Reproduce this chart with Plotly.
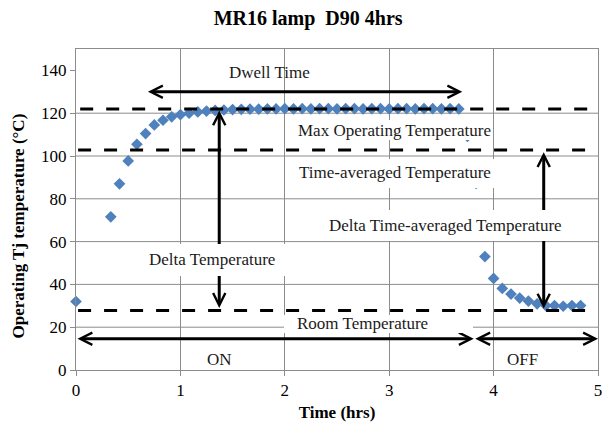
import plotly.graph_objects as go

# Junction temperature log of the MR16 lamp (D90, 4 h cycle)
minutes = [0, 20, 25, 30, 35, 40, 45, 50, 55, 60, 65, 70, 75, 80, 85, 90, 95, 100,
           105, 110, 115, 120, 125, 130, 135, 140, 145, 150, 155, 160, 165, 170,
           175, 180, 185, 190, 195, 200, 205, 210, 215, 220, 225, 230, 235, 240,
           245, 250, 255, 260, 265, 270, 275, 280, 285, 290]
tj_temp = [32.0, 71.6, 87.0, 97.7, 105.5, 110.5, 114.5, 116.7, 118.3, 119.3, 120.0,
           120.6, 121.0, 121.3, 121.5, 121.7, 121.8, 121.9, 121.9, 122.0, 122.0,
           122.1, 122.0, 122.1, 122.0, 122.1, 122.1, 122.0, 122.1, 122.1, 122.0,
           122.1, 122.1, 122.0, 122.1, 122.1, 122.0, 122.1, 122.1, 122.0, 122.1,
           122.0, 109.2, 87.2, 53.0, 42.8, 38.1, 35.5, 33.6, 32.2, 30.9, 30.1,
           30.1, 29.8, 30.1, 30.1]
hours = [m / 60 for m in minutes]

max_temp = 122.0
avg_temp = 102.8
room_temp = 27.8
switch_off = 3.81

y_ticks = [0, 20, 40, 60, 80, 100, 120, 140]
y_grid = [20, 40, 60, 80, 100, 120]
x_ticks = [0, 1, 2, 3, 4, 5]

SERIF = "Liberation Serif, Times New Roman, serif"
GRID = "#8c8c8c"

fig = go.Figure()
fig.add_trace(go.Scatter(
    x=hours, y=tj_temp, mode="markers", cliponaxis=False,
    marker=dict(symbol="diamond", size=9, color="#4F81BD", line=dict(width=0)),
    showlegend=False, hoverinfo="x+y",
))

shapes = []
for g in y_grid:
    shapes.append(dict(type="line", xref="x", yref="y", x0=0, x1=5, y0=g, y1=g,
                       line=dict(color=GRID, width=1), layer="below"))

dash = "13px,13px"
for level, start in [(max_temp, 0.04), (avg_temp, 0.02), (room_temp, 0.02)]:
    shapes.append(dict(type="line", xref="x", yref="y", x0=start, x1=5, y0=level, y1=level,
                       line=dict(color="black", width=3, dash=dash), layer="above"))

annotations = []


def arrow(x0, y0, x1, y1):
    annotations.append(dict(
        x=x1, y=y1, ax=x0, ay=y0, xref="x", yref="y", axref="x", ayref="y",
        text="", showarrow=True, arrowside="end+start", arrowhead=5, startarrowhead=5,
        arrowsize=0.8, startarrowsize=0.8, arrowwidth=3, arrowcolor="black",
        standoff=0, startstandoff=0,
    ))


def box(x, y, w, h):
    annotations.append(dict(
        x=x, y=y, xref="x", yref="y", text=" ", showarrow=False, width=w, height=h,
        bgcolor="white", borderpad=0, borderwidth=0,
    ))


def label(x, y, text):
    annotations.append(dict(
        x=x, y=y, xref="x", yref="y", text=text, showarrow=False,
        font=dict(family=SERIF, size=17, color="#1a1a1a"),
    ))


# Dwell time, delta arrows, ON / OFF spans
arrow(0.675, 130, 3.70, 130)
arrow(1.372, 28.3, 1.372, 121.3)
arrow(4.48, 28.0, 4.48, 101.8)
arrow(0.0, 14.6, switch_off, 14.6)
arrow(switch_off, 14.6, 5.0, 14.6)

# white text boxes
box(3.05, 112.3, 196, 20)
box(3.06, 92.0, 200, 29)
box(1.31, 51.5, 150, 32)
box(3.54, 67.3, 250, 31)
box(2.90, 21.3, 189, 18)

label(1.853, 138.8, "Dwell Time")
label(3.05, 112.0, "Max Operating Temperature")
label(3.06, 92.4, "Time-averaged Temperature")
label(1.307, 51.6, "Delta Temperature")
label(3.54, 67.3, "Delta Time-averaged Temperature")
label(2.74, 21.6, "Room Temperature")
label(1.374, 5.1, "ON")
label(4.28, 5.1, "OFF")

# vertical axis title
annotations.append(dict(
    x=-0.110, y=0.449, xref="paper", yref="paper", showarrow=False, textangle=-90,
    text="<b>Operating Tj temperature (°C)</b>", xanchor="center", yanchor="middle",
    font=dict(family=SERIF, size=17, color="black"),
))

fig.update_layout(
    width=603, height=430,
    margin=dict(l=76, r=1, t=49, b=60),
    paper_bgcolor="white", plot_bgcolor="white",
    font=dict(family=SERIF, size=17, color="black"),
    title=dict(text="<b>MR16 lamp\u00a0 D90 4hrs</b>", x=0.511, xref="container",
               xanchor="center", y=0.958, yref="container", yanchor="middle",
               font=dict(family=SERIF, size=20, color="black")),
    shapes=shapes,
    annotations=annotations,
    showlegend=False,
)
fig.update_xaxes(
    range=[0, 5], tickvals=x_ticks, showgrid=True, gridcolor=GRID, gridwidth=1,
    showline=True, linecolor=GRID, linewidth=1, mirror=True,
    ticks="outside", ticklen=5, tickcolor=GRID, zeroline=False,
    ticklabeloverflow="allow",
    tickfont=dict(family=SERIF, size=17, color="black"),
    title=dict(text="<b>Time (hrs)</b>", font=dict(family=SERIF, size=17), standoff=6),
)
fig.update_yaxes(
    range=[0, 150], tickvals=y_ticks, showgrid=False,
    showline=True, linecolor=GRID, linewidth=1, mirror=True,
    ticks="outside", ticklen=5, tickcolor=GRID, zeroline=False,
    tickfont=dict(family=SERIF, size=17, color="black"),
)

fig.write_html("out.html")
